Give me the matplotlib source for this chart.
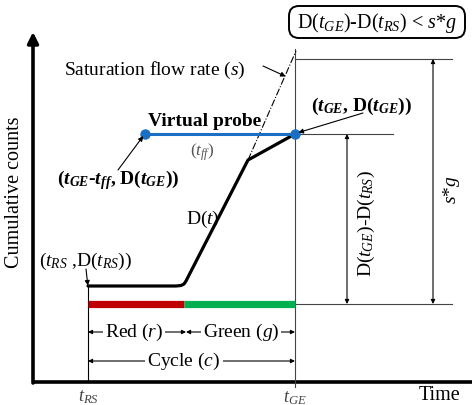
import matplotlib
matplotlib.use("Agg")
import matplotlib.pyplot as plt
from matplotlib.patches import FancyBboxPatch

plt.rcParams["font.family"] = ["Liberation Serif", "DejaVu Serif"]
plt.rcParams["mathtext.fontset"] = "custom"
plt.rcParams["mathtext.rm"] = "Liberation Serif"
plt.rcParams["mathtext.it"] = "Liberation Serif:italic"
plt.rcParams["mathtext.bf"] = "Liberation Serif:bold"
plt.rcParams["mathtext.bfit"] = "Liberation Serif:bold:italic"

# diagram coordinates (x to the right, y downwards, same scale as the canvas)
AXIS_X = 33
AXIS_Y = 383
T_RS = 88
T_RED_END = 186
T_GE = 295
T_PROBE = 145

# cumulative count curve D(t): flat during red, steep discharge, then slower arrivals
curve_t = [88, 176, 181, 184, 186, 248, 295]
curve_d = [287, 287, 286.5, 285, 282, 161, 135]

# saturation flow line (s) continued above the kink
sat_t = [248, 296]
sat_d = [161, 52]

D_GE = 135          # D(t_GE)
D_RS = 305          # baseline of the bars / D(t_RS) reference level
SG_TOP = 60         # level reached with s*g

fig = plt.figure(figsize=(4.72, 4.06), dpi=100)
ax = fig.add_axes([0, 0, 1, 1])
ax.set_xlim(0, 472)
ax.set_ylim(406, 0)
ax.axis("off")

fs = 14
grey = "#444444"

# axes of the diagram
ax.plot([AXIS_X - 1, 472], [AXIS_Y, AXIS_Y], color="black", lw=2.6, solid_capstyle="butt")
ax.annotate("", xy=(AXIS_X, 33), xytext=(AXIS_X, AXIS_Y + 1),
            arrowprops=dict(arrowstyle="-|>", lw=2.6, mutation_scale=16, color="black",
                            shrinkA=0, shrinkB=0))
ax.text(15, 192, "Cumulative counts", rotation=90, ha="center", va="center", fontsize=fs + 0.5)
ax.text(440, 396, "Time", ha="center", va="center", fontsize=fs + 0.5)
ax.text(T_RS, 397, r"$t_{RS}$", ha="center", va="center", fontsize=fs - 1, color=grey)
ax.text(T_GE, 398, r"$t_{GE}$", ha="center", va="center", fontsize=fs - 1, color=grey)

# reference lines
thin = dict(color=grey, lw=0.8)
ax.plot([T_GE, T_GE], [50, 388], **thin)
ax.plot([T_RS, T_RS], [288, AXIS_Y], color="black", lw=0.8)
ax.plot([T_GE, 452], [SG_TOP, SG_TOP], **thin)
ax.plot([T_GE, 393], [D_GE, D_GE], **thin)
ax.plot([T_GE, 452], [D_RS, D_RS], **thin)

# signal phases
ax.plot([T_RS, T_RED_END - 2], [D_RS, D_RS], color="#c00000", lw=5.2, solid_capstyle="butt")
ax.plot([T_RED_END - 2, T_GE], [D_RS, D_RS], color="#00b050", lw=5.2, solid_capstyle="butt")

# saturation flow and cumulative curve
ax.plot(sat_t, sat_d, color="black", lw=0.8, ls="-.")
ax.plot(curve_t, curve_d, color="black", lw=2.3, solid_joinstyle="round", solid_capstyle="round")

# virtual probe
ax.plot([T_PROBE, T_GE], [D_GE, D_GE], color="#1a6fc4", lw=2.2)
ax.plot([T_PROBE, T_GE], [D_GE, D_GE], "o", color="#1a6fc4", ms=6.5)

arrow = dict(arrowstyle="-|>", lw=0.8, mutation_scale=7, color="black", shrinkA=0, shrinkB=1)

ax.text(205, 122, "Virtual probe", ha="center", va="center", fontsize=fs, fontweight="bold")
ax.text(202, 152, r"$(t_{ff})$", ha="center", va="center", fontsize=fs - 1.5, color="#555555")
ax.text(118, 180, r"($\mathbfit{t}_{\mathbfit{GE}}$-$\mathbfit{t}_{\mathbfit{ff}}$, D($\mathbfit{t}_{\mathbfit{GE}}$))",
        ha="center", va="center", fontsize=fs, fontweight="bold")
ax.annotate("", xy=(T_PROBE - 1, D_GE + 1), xytext=(118, 171), arrowprops=arrow)

ax.text(362, 106, r"($\mathbfit{t}_{\mathbfit{GE}}$, D($\mathbfit{t}_{\mathbfit{GE}}$))",
        ha="center", va="center", fontsize=fs, fontweight="bold")
ax.annotate("", xy=(T_GE + 2, D_GE - 1), xytext=(363, 114), arrowprops=arrow)

ax.text(155, 70, r"Saturation flow rate $(s)$", ha="center", va="center", fontsize=fs)
ax.annotate("", xy=(287, 78), xytext=(263, 67), arrowprops=arrow)

ax.text(203, 219, r"D$(t)$", ha="center", va="center", fontsize=fs)

ax.text(86, 261, r"$(t_{RS}$ ,D$(t_{RS}))$", ha="center", va="center", fontsize=fs)
ax.annotate("", xy=(T_RS, 288), xytext=(86, 270), arrowprops=arrow)

# dimension arrows on the right
dim = dict(arrowstyle="<|-|>", lw=0.8, mutation_scale=6, color="black", shrinkA=0, shrinkB=0)
ax.annotate("", xy=(347, D_GE), xytext=(347, D_RS), arrowprops=dim)
ax.text(366, 224, r"D$(t_{GE})$-D$(t_{RS})$", rotation=90, ha="center", va="center", fontsize=fs)
ax.annotate("", xy=(433, SG_TOP), xytext=(433, D_RS), arrowprops=dim)
ax.text(451, 190, r"$s$*$g$", rotation=90, ha="center", va="center", fontsize=fs)

# phase durations
ax.annotate("", xy=(T_RS, 333), xytext=(T_RED_END, 333), arrowprops=dim)
ax.annotate("", xy=(T_RED_END, 333), xytext=(T_GE, 333), arrowprops=dim)
ax.annotate("", xy=(T_RS, 362), xytext=(T_GE, 362), arrowprops=dim)
box = dict(facecolor="white", edgecolor="none", pad=1.5)
ax.text(134, 332, r"Red $(r)$", ha="center", va="center", fontsize=fs, bbox=box)
ax.text(241, 332, r"Green $(g)$", ha="center", va="center", fontsize=fs, bbox=box)
ax.text(184, 361, r"Cycle $(c)$", ha="center", va="center", fontsize=fs, bbox=box)

# condition box
ax.add_patch(FancyBboxPatch((289, 7), 176, 32, boxstyle="round,pad=0,rounding_size=10",
                            facecolor="white", edgecolor="black", lw=1.4))
ax.text(377, 23, r"D$(t_{GE})$-D$(t_{RS})$ < $s$*$g$", ha="center", va="center", fontsize=fs + 0.5)

fig.savefig("out.png", dpi=100)
